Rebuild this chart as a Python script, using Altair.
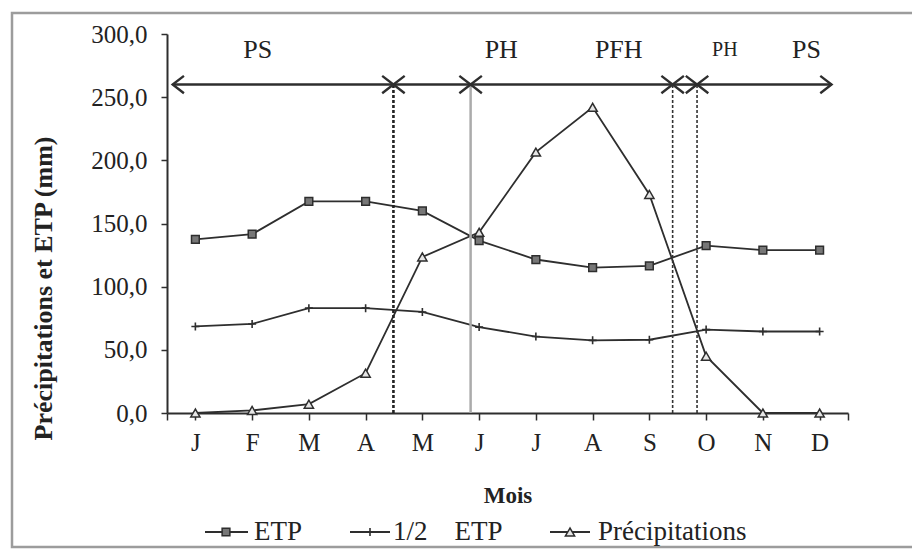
import altair as alt
import pandas as pd

# ---------------- data ----------------
months = ["J", "F", "M", "A", "M", "J", "J", "A", "S", "O", "N", "D"]
etp = [137.5, 141.5, 167.5, 167.5, 160.0, 136.5, 121.5, 115.0, 116.5, 132.5, 129.0, 129.0]
half_etp = [68.5, 70.5, 83.0, 83.0, 80.0, 68.0, 60.5, 57.5, 58.0, 66.0, 64.5, 64.5]
precip = [0.0, 2.0, 7.0, 31.5, 123.5, 143.0, 206.5, 242.0, 173.0, 45.0, 0.0, 0.0]
series_names = ["ETP", "1/2 ETP", "Précipitations"]
legend_labels = ["ETP", "1/2\u00a0\u00a0\u00a0\u00a0ETP", "Précipitations"]

# period annotations (x in month-index units, y in mm)
period_names = ["PS", "PH", "PFH", "PH", "PS"]
period_name_pos = [1.10, 5.39, 7.46, 9.33, 10.77]
period_name_size = [26, 26, 26, 20, 26]
period_starts = [-0.40, 3.49, 4.85, 8.41, 8.84]
period_ends = [3.49, 4.85, 8.41, 8.84, 11.21]
arrow_level = 260
label_level = 287
bound_dashed_main = [3.49]
bound_solid_gray = [4.85]
bound_dashed_thin = [8.41, 8.84]

# ---------------- layout / style ----------------
W, H = 681, 379
FONT = "Liberation Serif"
INK = "#2e2e2e"

rows = []
for s, vals in zip(series_names, [etp, half_etp, precip]):
    for i, v in enumerate(vals):
        rows.append({"i": i, "month": months[i], "value": v, "series": s})
df = pd.DataFrame(rows)

x_scale = alt.Scale(domain=[-0.5, 11.5], nice=False, zero=False)
y_scale = alt.Scale(domain=[0, 300], nice=False, zero=True)

month_js = "[" + ",".join("'" + m + "'" for m in months) + "]"
x_axis = alt.Axis(
    values=[-0.5] + list(range(12)) + [11.5],
    labelExpr="datum.value % 1 == 0 ? " + month_js + "[datum.value] : ''",
    title="Mois", titleFontWeight="bold", titleFontSize=23,
    titleX=W / 2, titleY=82, titleBaseline="middle", titleAlign="center",
    labelFontSize=25, labelPadding=10, tickSize=7, labelFlush=False,
    labelOverlap=False,
)
y_axis = alt.Axis(
    values=[0, 50, 100, 150, 200, 250, 300],
    labelExpr="replace(format(datum.value, '.1f'), '.', ',')",
    title="Précipitations et ETP (mm)", titleFontWeight="bold", titleFontSize=26,
    titleX=-124, titleY=254, titleAngle=270, titleAlign="center",
    titleBaseline="middle",
    labelFontSize=25, labelPadding=14, tickSize=6,
)


def X(field):
    return alt.X(field, scale=x_scale, axis=x_axis)


def Y(field):
    return alt.Y(field, scale=y_scale, axis=y_axis)


base = alt.Chart(df).encode(x=X("i:Q"), y=Y("value:Q"))

lines = base.mark_line(color=INK, strokeWidth=1.8).encode(detail="series:N")

pts_etp = base.transform_filter(alt.datum.series == "ETP").mark_point(
    shape="square", filled=True, fill="#777777", stroke=INK, strokeWidth=1.5,
    size=60, opacity=1)
CROSS = "M -1 0 L 1 0 M 0 -1 L 0 1"
pts_half = base.transform_filter(alt.datum.series == "1/2 ETP").mark_point(
    shape=CROSS, filled=False, stroke=INK, strokeWidth=1.6, size=64, opacity=1)
pts_pr = base.transform_filter(alt.datum.series == "Précipitations").mark_point(
    shape="triangle-up", filled=True, fill="#e6e6e6", stroke=INK, strokeWidth=1.5,
    size=85, opacity=1)


# boundary lines
def bound_layer(xs, **kw):
    d = pd.DataFrame({"i": xs, "value": [0] * len(xs), "y1": [arrow_level] * len(xs)})
    return alt.Chart(d).mark_rule(**kw).encode(x=X("i:Q"), y=Y("value:Q"), y2="y1:Q")


b1 = bound_layer(bound_dashed_main, color="#222222", strokeWidth=2.6, strokeDash=[3, 2])
b2 = bound_layer(bound_solid_gray, color="#ababab", strokeWidth=2.5)
b3 = bound_layer(bound_dashed_thin, color="#333333", strokeWidth=1.6, strokeDash=[3, 2])

# period arrows
arr_df = pd.DataFrame({"i": period_starts, "x1": period_ends,
                       "value": [arrow_level] * len(period_starts)})
arrows = alt.Chart(arr_df).mark_rule(color=INK, strokeWidth=2.6).encode(
    x=X("i:Q"), x2="x1:Q", y=Y("value:Q"))
LEFT_HEAD = "M 1.3 -1 L 0 0 L 1.3 1"
RIGHT_HEAD = "M -1.3 -1 L 0 0 L -1.3 1"
heads_l = alt.Chart(arr_df).mark_point(
    shape=LEFT_HEAD, filled=False, stroke=INK, strokeWidth=2.4, size=300, opacity=1
).encode(x=X("i:Q"), y=Y("value:Q"))
heads_r = alt.Chart(arr_df).mark_point(
    shape=RIGHT_HEAD, filled=False, stroke=INK, strokeWidth=2.4, size=300, opacity=1
).encode(x=X("x1:Q"), y=Y("value:Q"))

lab_df = pd.DataFrame({"i": period_name_pos, "name": period_names,
                       "fs": period_name_size, "value": [label_level] * len(period_names)})
period_text = alt.Chart(lab_df).mark_text(
    font=FONT, baseline="middle", align="center", color="#222222"
).encode(
    x=X("i:Q"), y=Y("value:Q"), text="name:N",
    size=alt.Size("fs:Q", scale=None, legend=None),
)

# outer frame
one = pd.DataFrame({"k": [0]})
frame = alt.Chart(one).mark_rect(fillOpacity=0, stroke="#9c9c9c", strokeWidth=2.5).encode(
    x=alt.value(-155), x2=alt.value(748), y=alt.value(-21), y2=alt.value(513)
)

# manual legend (line + marker + label)
LEG_Y = 498
leg_line_x0 = [38, 183, 383]
leg_line_x1 = [81, 223, 423]
leg_mark_x = [59, 203, 403]
leg_text_x = [87, 226, 431]
leg_marks = [
    dict(shape="square", filled=True, fill="#777777", stroke=INK, strokeWidth=1.5, size=60),
    dict(shape=CROSS, filled=False, stroke=INK, strokeWidth=1.6, size=64),
    dict(shape="triangle-up", filled=True, fill="#e6e6e6", stroke=INK, strokeWidth=1.5, size=85),
]
legend_layers = []
for k in range(3):
    legend_layers.append(alt.Chart(one).mark_rule(color=INK, strokeWidth=1.8).encode(
        x=alt.value(leg_line_x0[k]), x2=alt.value(leg_line_x1[k]), y=alt.value(LEG_Y)))
    legend_layers.append(alt.Chart(one).mark_point(opacity=1, **leg_marks[k]).encode(
        x=alt.value(leg_mark_x[k]), y=alt.value(LEG_Y)))
    legend_layers.append(alt.Chart(one).mark_text(
        font=FONT, fontSize=27, align="left", baseline="middle", color="#222222",
        text=legend_labels[k]).encode(x=alt.value(leg_text_x[k]), y=alt.value(LEG_Y)))

chart = alt.layer(
    lines, frame, b1, b2, b3, pts_etp, pts_half, pts_pr,
    arrows, heads_l, heads_r, period_text, *legend_layers
).properties(
    width=W, height=H,
    padding={"left": 167, "top": 34, "right": 64, "bottom": 136},
    autosize=alt.AutoSizeParams(type="none"),
    background="white",
).configure(font=FONT).configure_view(strokeWidth=0).configure_axis(
    domainColor=INK, domainWidth=2, tickColor=INK, tickWidth=1.5,
    labelColor="#222222", titleColor="#222222", grid=False,
    labelFont=FONT, titleFont=FONT,
)

chart.save("out.html", embed_options={"renderer": "svg", "actions": False})
